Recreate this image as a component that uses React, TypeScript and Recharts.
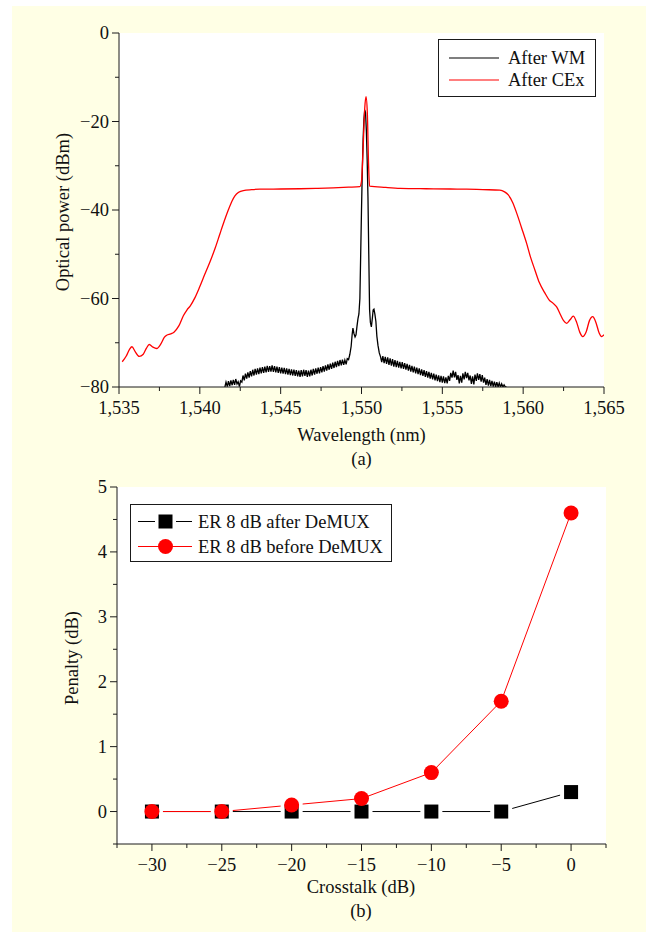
import React from "react";
import { LineChart, Line, XAxis, YAxis, CartesianGrid, Legend } from "recharts";

const FONT = '"Liberation Serif", "Times New Roman", serif';
const INK = "#1a1a1a";
const FS = 18.5;

// (a) optical spectra, [wavelength nm, power dBm]
const afterCEx: [number, number][] = [
  [1535.2, -74.3], [1535.45, -73.0], [1535.65, -71.5], [1535.8, -70.9], [1536.0, -72.0],
  [1536.25, -73.1], [1536.5, -72.6], [1536.7, -71.2], [1536.87, -70.4], [1537.1, -71.0],
  [1537.33, -71.3], [1537.6, -70.2], [1537.8, -68.8], [1537.95, -68.3], [1538.2, -68.0],
  [1538.4, -67.6], [1538.7, -66.2], [1538.98, -63.9], [1539.2, -62.6], [1539.4, -61.7],
  [1539.7, -59.8], [1540.0, -57.3], [1540.3, -54.6], [1540.63, -51.7], [1540.95, -48.6],
  [1541.25, -45.3], [1541.5, -42.6], [1541.76, -40.0], [1542.0, -37.9], [1542.17, -36.8],
  [1542.4, -36.0], [1542.69, -35.6], [1543.2, -35.4], [1543.72, -35.3], [1545.0, -35.25],
  [1546.2, -35.2], [1547.3, -35.1], [1548.25, -35.0], [1549.2, -34.85], [1549.9, -34.7],
  [1550.0, -33.5], [1550.1, -26.0], [1550.2, -17.0], [1550.28, -14.4], [1550.36, -18.0],
  [1550.44, -30.0], [1550.5, -34.6], [1551.5, -34.9], [1552.4, -35.1], [1554.0, -35.2],
  [1555.5, -35.25], [1556.5, -35.3], [1557.5, -35.4], [1558.56, -35.5], [1558.85, -35.9],
  [1559.08, -36.6], [1559.35, -38.3], [1559.6, -40.7], [1559.9, -44.0], [1560.21, -47.5],
  [1560.45, -50.6], [1560.73, -53.6], [1561.0, -56.4], [1561.35, -58.8], [1561.6, -60.3],
  [1561.86, -61.1], [1562.07, -61.9], [1562.3, -63.6], [1562.5, -65.0], [1562.69, -65.6],
  [1562.9, -64.8], [1563.1, -64.0], [1563.3, -65.3], [1563.5, -67.6], [1563.68, -68.6],
  [1563.9, -67.5], [1564.1, -65.0], [1564.3, -64.1], [1564.5, -65.4], [1564.7, -67.8],
  [1564.85, -68.6], [1565.0, -68.2],
];

const afterWM: [number, number][] = [
  [1541.55, -80.0], [1541.62, -78.9], [1541.7, -79.9], [1541.77, -78.7], [1541.85, -79.8],
  [1541.92, -78.5], [1542.0, -79.6], [1542.07, -78.4], [1542.15, -79.5], [1542.22, -78.2],
  [1542.3, -79.3], [1542.37, -78.8], [1542.45, -79.9], [1542.52, -78.6], [1542.6, -78.9],
  [1542.67, -77.4], [1542.75, -78.5], [1542.82, -77.0], [1542.9, -78.1], [1542.97, -76.7],
  [1543.05, -77.9], [1543.12, -76.4], [1543.2, -77.6], [1543.27, -76.1], [1543.35, -77.4],
  [1543.42, -75.9], [1543.5, -77.2], [1543.57, -75.8], [1543.65, -77.1], [1543.72, -75.6],
  [1543.8, -76.9], [1543.87, -75.5], [1543.95, -76.8], [1544.02, -75.4], [1544.1, -76.7],
  [1544.17, -75.2], [1544.25, -76.6], [1544.32, -75.3], [1544.4, -76.5], [1544.47, -75.1],
  [1544.55, -76.6], [1544.62, -75.3], [1544.7, -76.7], [1544.77, -75.4], [1544.85, -76.8],
  [1544.92, -75.5], [1545.0, -76.9], [1545.07, -75.6], [1545.15, -77.0], [1545.22, -75.7],
  [1545.3, -77.1], [1545.37, -75.8], [1545.45, -77.2], [1545.52, -75.9], [1545.6, -77.3],
  [1545.67, -76.0], [1545.75, -77.4], [1545.82, -76.1], [1545.9, -77.5], [1545.97, -76.2],
  [1546.05, -77.6], [1546.12, -76.3], [1546.2, -77.7], [1546.27, -76.2], [1546.35, -77.6],
  [1546.42, -76.1], [1546.5, -77.5], [1546.57, -76.2], [1546.65, -77.7], [1546.72, -76.3],
  [1546.8, -77.6], [1546.87, -76.1], [1546.95, -77.4], [1547.02, -75.9], [1547.1, -77.2],
  [1547.17, -75.8], [1547.25, -77.0], [1547.32, -75.6], [1547.4, -76.9], [1547.47, -75.5],
  [1547.55, -76.7], [1547.62, -75.3], [1547.7, -76.5], [1547.77, -75.1], [1547.85, -76.3],
  [1547.92, -74.9], [1548.0, -76.1], [1548.07, -74.7], [1548.15, -75.9], [1548.22, -74.5],
  [1548.3, -75.7], [1548.37, -74.3], [1548.45, -75.5], [1548.52, -74.1], [1548.6, -75.3],
  [1548.67, -73.9], [1548.75, -75.1], [1548.82, -73.8], [1548.9, -75.0], [1548.97, -73.9],
  [1549.05, -74.9], [1549.12, -73.6], [1549.2, -73.8], [1549.28, -72.6], [1549.36, -70.8],
  [1549.42, -68.2], [1549.47, -66.7], [1549.53, -67.9], [1549.6, -68.7], [1549.66, -68.2],
  [1549.72, -66.3], [1549.78, -64.6], [1549.84, -63.5], [1549.9, -60.0], [1549.95, -50.0],
  [1550.0, -40.0], [1550.05, -31.0], [1550.1, -24.0], [1550.15, -19.5], [1550.2, -17.4],
  [1550.25, -18.0], [1550.3, -22.0], [1550.35, -28.5], [1550.4, -37.0], [1550.45, -50.0],
  [1550.5, -62.5], [1550.55, -65.4], [1550.61, -66.4], [1550.67, -64.5], [1550.72, -62.6],
  [1550.77, -62.4], [1550.83, -63.6], [1550.89, -65.2], [1550.95, -68.5], [1551.02, -70.6],
  [1551.1, -72.3], [1551.18, -73.2], [1551.25, -74.4], [1551.32, -73.0], [1551.4, -74.6],
  [1551.47, -73.2], [1551.55, -74.8], [1551.62, -73.3], [1551.7, -75.0], [1551.77, -73.5],
  [1551.85, -75.2], [1551.92, -73.7], [1552.0, -75.4], [1552.07, -73.9], [1552.15, -75.5],
  [1552.22, -74.1], [1552.3, -75.6], [1552.37, -74.3], [1552.45, -75.8], [1552.52, -74.4],
  [1552.6, -75.9], [1552.67, -74.6], [1552.75, -76.1], [1552.82, -74.8], [1552.9, -76.3],
  [1552.97, -75.0], [1553.05, -76.5], [1553.12, -75.2], [1553.2, -76.7], [1553.27, -75.4],
  [1553.35, -76.9], [1553.42, -75.6], [1553.5, -77.1], [1553.57, -75.8], [1553.65, -77.3],
  [1553.72, -76.0], [1553.8, -77.5], [1553.87, -76.2], [1553.95, -77.7], [1554.02, -76.4],
  [1554.1, -77.9], [1554.17, -76.6], [1554.25, -78.1], [1554.32, -76.8], [1554.4, -78.3],
  [1554.47, -77.0], [1554.55, -78.5], [1554.62, -77.2], [1554.7, -78.7], [1554.77, -77.4],
  [1554.85, -78.9], [1554.92, -77.5], [1555.0, -79.0], [1555.07, -77.6], [1555.15, -79.1],
  [1555.22, -77.8], [1555.3, -79.2], [1555.37, -77.5], [1555.45, -78.6], [1555.52, -76.8],
  [1555.6, -77.9], [1555.67, -76.3], [1555.75, -77.8], [1555.82, -76.6], [1555.9, -78.4],
  [1555.97, -77.3], [1556.05, -79.2], [1556.12, -77.5], [1556.2, -79.0], [1556.27, -76.9],
  [1556.35, -78.3], [1556.42, -76.6], [1556.5, -78.0], [1556.57, -76.8], [1556.65, -78.5],
  [1556.72, -77.4], [1556.8, -79.3], [1556.87, -77.6], [1556.95, -79.4], [1557.02, -77.2],
  [1557.1, -78.6], [1557.17, -76.9], [1557.25, -78.4], [1557.32, -77.1], [1557.4, -78.8],
  [1557.47, -77.3], [1557.55, -79.0], [1557.62, -77.9], [1557.7, -79.5], [1557.77, -78.2],
  [1557.85, -79.7], [1557.92, -78.4], [1558.0, -79.8], [1558.07, -78.6], [1558.15, -79.9],
  [1558.22, -78.8], [1558.3, -80.0], [1558.37, -78.9], [1558.45, -80.0], [1558.52, -79.1],
  [1558.6, -80.0], [1558.67, -79.3], [1558.75, -80.0], [1558.82, -79.5], [1558.9, -80.0],
  [1558.97, -80.0],
];

const wavelengthTicks = [1535, 1537.5, 1540, 1542.5, 1545, 1547.5, 1550, 1552.5, 1555, 1557.5, 1560, 1562.5, 1565];
const powerTicks = [-80, -70, -60, -50, -40, -30, -20, -10, 0];

// (b) penalty vs crosstalk
const crosstalk = [-30, -25, -20, -15, -10, -5, 0];
const penaltyAfter = [0, 0, 0, 0, 0, 0, 0.3];
const penaltyBefore = [0, 0, 0.1, 0.2, 0.6, 1.7, 4.6];
const crosstalkTicks = [-32.5, -30, -27.5, -25, -22.5, -20, -17.5, -15, -12.5, -10, -7.5, -5, -2.5, 0, 2.5];
const penaltyTicks = [-0.5, 0, 0.5, 1, 1.5, 2, 2.5, 3, 3.5, 4, 4.5, 5];

const toXY = (pts: [number, number][]) => pts.map(([x, y]) => ({ x, y }));
const spectrumWM = toXY(afterWM);
const spectrumCEx = toXY(afterCEx);
const penaltyRows = crosstalk.map((x, i) => ({ x, after: penaltyAfter[i], before: penaltyBefore[i] }));

const minus = (v: number) => (v < 0 ? "\u2212" + Math.abs(v) : String(v));

type Side = "left" | "right" | "top" | "bottom";

// tick line + optional label; axes use tickSize 0 so (x, y) sits on the axis line
function axisTick(side: Side, major: (v: number) => boolean, label?: (v: number) => string) {
  return (p: any) => {
    const { x, y, payload } = p;
    const v = payload.value;
    const len = major(v) ? 7 : 4;
    const vertical = side === "left" || side === "right";
    return (
      <g key={`${side}-${v}`}>
        {vertical ? (
          <line x1={x - len} x2={x} y1={y} y2={y} stroke={INK} strokeWidth={1} />
        ) : (
          <line x1={x} x2={x} y1={y} y2={y + len} stroke={INK} strokeWidth={1} />
        )}
        {label && major(v) && side === "left" && (
          <text x={x - 10} y={y + 6} textAnchor="end" fontFamily={FONT} fontSize={FS} fill="#111">
            {label(v)}
          </text>
        )}
        {label && major(v) && side === "bottom" && (
          <text x={x} y={y + 27} textAnchor="middle" fontFamily={FONT} fontSize={FS} fill="#111">
            {label(v)}
          </text>
        )}
      </g>
    );
  };
}

const none = () => "";

function LegendA() {
  return (
    <svg width={158} height={58} style={{ display: "block" }}>
      <rect x={0.5} y={0.5} width={157} height={57} fill="#fff" stroke={INK} />
      <line x1={11} x2={61} y1={19} y2={19} stroke="#000" strokeWidth={1.2} />
      <text x={70} y={25} fontFamily={FONT} fontSize={FS} fill="#111">After WM</text>
      <line x1={11} x2={61} y1={41} y2={41} stroke="#ff0000" strokeWidth={1.2} />
      <text x={70} y={47} fontFamily={FONT} fontSize={FS} fill="#111">After CEx</text>
    </svg>
  );
}

function LegendB() {
  return (
    <svg width={262} height={58} style={{ display: "block" }}>
      <rect x={0.5} y={0.5} width={261} height={57} fill="#fff" stroke={INK} />
      <line x1={8} x2={25} y1={17.5} y2={17.5} stroke="#000" strokeWidth={1} />
      <line x1={46} x2={62} y1={17.5} y2={17.5} stroke="#000" strokeWidth={1} />
      <rect x={28.5} y={10.5} width={14} height={14} fill="#000" />
      <text x={68} y={23.5} fontFamily={FONT} fontSize={FS} fill="#111">ER 8 dB after DeMUX</text>
      <line x1={8} x2={62} y1={42.5} y2={42.5} stroke="#ff0000" strokeWidth={1} />
      <circle cx={35.5} cy={42.5} r={7.5} fill="#ff0000" />
      <text x={68} y={48.5} fontFamily={FONT} fontSize={FS} fill="#111">ER 8 dB before DeMUX</text>
    </svg>
  );
}

const SquareDot = (p: any) => {
  const { cx, cy, index } = p;
  return (
    <g key={`sq-${index}`}>
      <rect x={cx - 11} y={cy - 11} width={22} height={22} fill="#fff" />
      <rect x={cx - 7} y={cy - 7} width={14} height={14} fill="#000" />
    </g>
  );
};

const CircleDot = (p: any) => {
  const { cx, cy, index } = p;
  return <circle key={`ci-${index}`} cx={cx} cy={cy} r={7.5} fill="#ff0000" />;
};

export default function App() {
  return (
    <div style={{ position: "absolute", left: 0, top: 0, width: 646, height: 932, background: "#fff", fontFamily: FONT }}>
      <div style={{ position: "absolute", left: 12, top: 6, right: 0, bottom: 0, background: "#FFFFE5" }} />

      <div style={{ position: "absolute", left: 0, top: 0 }}>
        <LineChart width={646} height={480} margin={{ top: 33, right: 42, bottom: 63, left: 59 }}>
          <CartesianGrid fill="#fff" stroke="none" horizontal={false} vertical={false} />
          <XAxis
            dataKey="x"
            type="number"
            domain={[1535, 1565]}
            ticks={wavelengthTicks}
            interval={0}
            allowDataOverflow
            height={30}
            tickSize={0}
            tickMargin={0}
            tickLine={false}
            axisLine={{ stroke: INK }}
            tick={axisTick("bottom", (v) => v % 5 === 0, (v) => v.toLocaleString("en-US"))}
          />
          <XAxis
            xAxisId="top"
            orientation="top"
            dataKey="x"
            type="number"
            domain={[1535, 1565]}
            ticks={wavelengthTicks}
            interval={0}
            height={0}
            tickSize={0}
            tickMargin={0}
            tickLine={false}
            axisLine={{ stroke: INK }}
            tick={axisTick("top", (v) => v % 5 === 0)}
            tickFormatter={none}
          />
          <YAxis
            type="number"
            domain={[-80, 0]}
            ticks={powerTicks}
            interval={0}
            allowDataOverflow
            width={60}
            tickSize={0}
            tickMargin={0}
            tickLine={false}
            axisLine={{ stroke: INK }}
            tick={axisTick("left", (v) => v % 20 === 0, minus)}
          />
          <YAxis
            yAxisId="right"
            orientation="right"
            type="number"
            domain={[-80, 0]}
            ticks={powerTicks}
            interval={0}
            width={0}
            tickSize={0}
            tickMargin={0}
            tickLine={false}
            axisLine={{ stroke: INK }}
            tick={axisTick("right", (v) => v % 20 === 0)}
            tickFormatter={none}
          />
          <Legend
            layout="horizontal"
            verticalAlign="middle"
            align="center"
            wrapperStyle={{ left: 438, top: 39, width: 158, height: 58 }}
            content={() => <LegendA />}
          />
          <Line data={spectrumWM} dataKey="y" name="After WM" type="linear" stroke="#000" strokeWidth={1.3} dot={false} activeDot={false} isAnimationActive={false} />
          <Line data={spectrumCEx} dataKey="y" name="After CEx" type="monotone" stroke="#ff0000" strokeWidth={1.3} dot={false} activeDot={false} isAnimationActive={false} />
        </LineChart>
      </div>

      <div style={{ position: "absolute", left: 0, top: 470 }}>
        <LineChart width={646} height={420} data={penaltyRows} margin={{ top: 17, right: 40, bottom: 16, left: 57 }}>
          <CartesianGrid fill="#fff" stroke="none" horizontal={false} vertical={false} />
          <XAxis
            dataKey="x"
            type="number"
            domain={[-32.5, 2.5]}
            ticks={crosstalkTicks}
            interval={0}
            height={30}
            tickSize={0}
            tickMargin={0}
            tickLine={false}
            axisLine={{ stroke: INK }}
            tick={axisTick("bottom", (v) => v % 5 === 0, minus)}
          />
          <XAxis
            xAxisId="top"
            orientation="top"
            dataKey="x"
            type="number"
            domain={[-32.5, 2.5]}
            ticks={crosstalkTicks}
            interval={0}
            height={0}
            tickSize={0}
            tickMargin={0}
            tickLine={false}
            axisLine={{ stroke: INK }}
            tick={axisTick("top", (v) => v % 5 === 0)}
            tickFormatter={none}
          />
          <YAxis
            type="number"
            domain={[-0.5, 5]}
            ticks={penaltyTicks}
            interval={0}
            width={60}
            tickSize={0}
            tickMargin={0}
            tickLine={false}
            axisLine={{ stroke: INK }}
            tick={axisTick("left", (v) => Number.isInteger(v), minus)}
          />
          <YAxis
            yAxisId="right"
            orientation="right"
            type="number"
            domain={[-0.5, 5]}
            ticks={penaltyTicks}
            interval={0}
            width={0}
            tickSize={0}
            tickMargin={0}
            tickLine={false}
            axisLine={{ stroke: INK }}
            tick={axisTick("right", (v) => Number.isInteger(v))}
            tickFormatter={none}
          />
          <Legend
            layout="horizontal"
            verticalAlign="middle"
            align="center"
            wrapperStyle={{ left: 130, top: 34, width: 262, height: 58 }}
            content={() => <LegendB />}
          />
          <Line dataKey="after" name="ER 8 dB after DeMUX" type="linear" stroke="#000" strokeWidth={1} dot={SquareDot} activeDot={false} isAnimationActive={false} />
          <Line dataKey="before" name="ER 8 dB before DeMUX" type="linear" stroke="#ff0000" strokeWidth={1} dot={CircleDot} activeDot={false} isAnimationActive={false} />
        </LineChart>
      </div>

      <svg width={646} height={932} style={{ position: "absolute", left: 0, top: 0, pointerEvents: "none" }}>
        <g fontFamily={FONT} fontSize={FS} fill="#111" textAnchor="middle">
          <text x={361.5} y={441}>Wavelength (nm)</text>
          <text x={361.5} y={465}>(a)</text>
          <text transform="translate(69,212) rotate(-90)">Optical power (dBm)</text>
          <text x={361} y={893}>Crosstalk (dB)</text>
          <text x={361} y={917}>(b)</text>
          <text transform="translate(78,658) rotate(-90)">Penalty (dB)</text>
        </g>
      </svg>
    </div>
  );
}
